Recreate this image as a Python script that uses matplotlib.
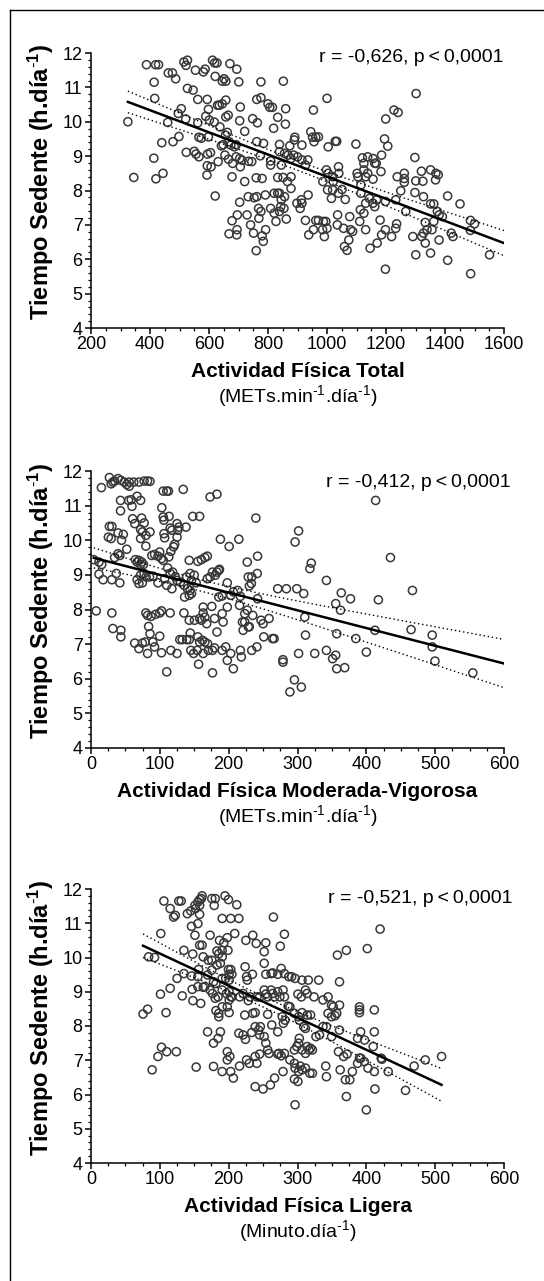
import numpy as np
import matplotlib
matplotlib.use("Agg")
import matplotlib.pyplot as plt
from matplotlib.lines import Line2D
from matplotlib.ticker import MultipleLocator

plt.rcParams['font.family'] = ['Liberation Sans', 'DejaVu Sans']
plt.rcParams['mathtext.fontset'] = 'custom'
plt.rcParams['mathtext.rm'] = 'Liberation Sans'
plt.rcParams['mathtext.it'] = 'Liberation Sans:italic'
plt.rcParams['mathtext.bf'] = 'Liberation Sans:bold'

# Actividad Fisica Total vs tiempo sedente
total_x = [
    388, 419, 429, 515, 527, 522, 612, 619, 627, 671,
    694, 554, 581, 587, 462, 476, 487, 621, 651, 657,
    645, 701, 776, 852, 414, 527, 546, 416, 562, 594,
    635, 629, 645, 657, 762, 776, 800, 806, 815, 706,
    860, 1000, 954, 1302, 1227, 1241, 1199, 506, 496, 521,
    598, 589, 601, 562, 460, 325, 618, 665, 657, 704,
    748, 764, 833, 859, 637, 819, 498, 566, 574, 598,
    662, 656, 721, 762, 785, 839, 874, 891, 889, 945,
    951, 962, 971, 956, 915, 1004, 1028, 1033, 1098, 1195,
    1206, 440, 478, 642, 648, 668, 674, 692, 686, 523,
    556, 566, 595, 605, 413, 631, 654, 666, 680, 692,
    704, 712, 734, 745, 774, 809, 839, 856, 868, 878,
    887, 900, 915, 927, 935, 550, 594, 607, 593, 678,
    706, 721, 760, 780, 809, 833, 851, 866, 878, 845,
    621, 345, 420, 444, 998, 1004, 1019, 1039, 1040, 986,
    1021, 1019, 1051, 1002, 1102, 1105, 1120, 1138, 1156, 1125,
    1162, 1167, 1125, 1138, 1131, 1156, 1185, 1183, 1115, 1298,
    1238, 1250, 1262, 1262, 1262, 1301, 1320, 1325, 1351, 1369,
    1377, 1368, 1298, 1327, 1409, 1451, 1351, 1362, 1267, 1374,
    1380, 1391, 1362, 1356, 1333, 1339, 1327, 1321, 1291, 1333,
    1380, 1421, 1427, 1486, 1500, 1486, 1551, 1351, 1301, 1409,
    1487, 1198, 1198, 1219, 1233, 1236, 1233, 1198, 1185, 1180,
    1162, 1168, 1156, 1144, 1131, 1125, 1113, 1111, 1131, 1146,
    1170, 1115, 1077, 1080, 1087, 1062, 1056, 1059, 1068, 1074,
    1036, 1035, 1039, 1015, 1000, 988, 996, 985, 991, 962,
    971, 954, 938, 927, 936, 898, 913, 915, 878, 856,
    833, 821, 845, 839, 854, 862, 827, 821, 809, 791,
    762, 753, 768, 776, 769, 733, 729, 704, 696, 678,
    668, 695, 694, 741, 751, 760, 780, 784, 792, 839,
    843, 909,
]
total_y = [
    11.66, 11.66, 11.66, 11.74, 11.79, 11.64, 11.79, 11.71, 11.71, 11.69,
    11.53, 11.50, 11.45, 11.53, 11.42, 11.42, 11.25, 11.32, 11.25, 11.18,
    11.18, 11.16, 11.16, 11.18, 11.15, 10.97, 10.92, 10.68, 10.65, 10.65,
    10.48, 10.48, 10.52, 10.63, 10.65, 10.70, 10.52, 10.42, 10.42, 10.43,
    10.38, 10.68, 10.34, 10.82, 10.34, 10.27, 10.08, 10.38, 10.24, 10.08,
    10.36, 10.16, 10.05, 9.97, 9.98, 10.0, 9.99, 10.19, 10.14, 10.03,
    10.09, 9.97, 10.13, 9.93, 9.85, 9.81, 9.57, 9.55, 9.52, 9.56,
    9.69, 9.61, 9.72, 9.42, 9.37, 9.34, 9.30, 9.55, 9.47, 9.71,
    9.55, 9.55, 9.56, 9.42, 9.32, 9.27, 9.43, 9.43, 9.35, 9.50,
    9.29, 9.39, 9.42, 9.30, 9.33, 9.42, 9.32, 9.33, 9.27, 9.11,
    9.06, 8.98, 9.06, 9.10, 8.94, 8.84, 9.03, 8.91, 8.79, 8.98,
    8.93, 8.88, 8.85, 8.84, 9.01, 8.86, 9.13, 9.08, 9.03, 8.93,
    9.03, 8.98, 8.89, 8.74, 8.89, 9.14, 8.72, 8.69, 8.45, 8.40,
    8.69, 8.26, 8.37, 8.35, 8.74, 8.38, 8.38, 8.26, 8.40, 8.74,
    7.84, 8.38, 8.34, 8.50, 8.60, 8.50, 8.40, 8.69, 8.50, 8.26,
    8.26, 8.02, 8.03, 8.02, 8.50, 8.40, 8.95, 8.98, 8.93, 8.79,
    8.79, 8.79, 8.60, 8.50, 8.40, 8.33, 9.03, 8.55, 8.16, 8.96,
    8.40, 7.99, 8.50, 8.35, 8.24, 8.28, 8.56, 8.27, 8.60, 8.50,
    8.46, 8.31, 7.94, 7.82, 7.84, 7.61, 7.61, 7.61, 7.39, 7.39,
    7.29, 7.24, 7.10, 6.86, 7.07, 6.86, 6.76, 6.66, 6.66, 6.47,
    6.56, 6.76, 6.66, 7.13, 7.03, 6.84, 6.13, 6.18, 6.13, 5.97,
    5.58, 5.71, 6.86, 6.66, 6.90, 7.03, 7.73, 7.68, 6.71, 7.14,
    7.53, 7.73, 7.63, 7.77, 7.63, 7.34, 7.44, 7.10, 6.86, 6.32,
    6.47, 7.92, 7.24, 6.86, 6.81, 7.74, 6.90, 6.37, 6.26, 6.56,
    7.29, 7.00, 7.92, 7.77, 6.90, 7.10, 7.10, 6.86, 6.66, 7.13,
    7.13, 6.86, 6.71, 7.13, 7.87, 7.63, 7.73, 7.63, 8.06, 7.82,
    7.92, 7.92, 7.73, 7.92, 7.48, 7.17, 7.10, 7.34, 7.48, 7.87,
    7.82, 7.79, 7.48, 7.39, 7.19, 7.82, 7.29, 7.66, 7.29, 7.12,
    6.74, 6.86, 6.71, 7.00, 6.76, 6.25, 6.68, 6.52, 6.86, 7.39,
    7.53, 7.48,
]

# Actividad Fisica Moderada-Vigorosa
mv_x = [
    26.7, 31.8, 29.2, 39.3, 43.4, 48.4, 51.9, 55.5, 62, 69.6,
    77.2, 82.2, 85.7, 15.1, 55.5, 34.3, 104.9, 110, 112.5, 134,
    173, 183, 42.9, 54.5, 58.5, 72.1, 67, 59.5, 42.9, 60.5,
    73.6, 63.5, 77.2, 102.9, 104.9, 105.9, 113.5, 147.8, 157.8, 239.5,
    115, 117.5, 125, 127.6, 126, 138, 26.7, 30.3, 25.2, 29.2,
    39.3, 46.9, 72.1, 74.6, 85.7, 44.4, 72.1, 79.7, 106, 107,
    125, 188, 200.7, 214.8, 296.5, 301.6, 435, 413.5, 52, 39.3,
    41.9, 79.7, 88.3, 92.3, 99.8, 97.3, 102.4, 105, 113, 116,
    120, 121.5, 142.7, 155.3, 160.4, 165.4, 169, 185.6, 227, 242,
    320, 318, 342, 467, 417.5, 4, 11.6, 15.6, 34.3, 64.5,
    67, 69.6, 73.6, 76.2, 72, 11.6, 17.6, 30.3, 36.8, 41.9,
    67, 72, 77, 80, 69.6, 74.6, 85, 90, 97.3, 107,
    110, 111.4, 115, 118.5, 122.5, 125, 130, 117.5, 135, 139,
    140, 144, 146, 150, 152.8, 144, 146, 142.7, 136, 169,
    173, 176.5, 180.5, 183, 186.6, 198, 206.8, 190.6, 185.6, 203,
    213, 217, 228.5, 233.5, 230, 233, 241.5, 242, 271.3, 283.9,
    299, 309, 355.5, 363.6, 362.5, 377, 7.6, 30.3, 31.8, 43.4,
    43.4, 63.5, 69.6, 74.6, 78.7, 82.2, 79.7, 82.2, 87.2, 93.8,
    99.8, 102.4, 83.7, 85.7, 89.8, 92.3, 99.8, 102.4, 110, 115,
    116, 125, 129, 132.6, 135, 139, 142.7, 142.7, 144.2, 150.3,
    145, 149, 157.8, 160.4, 155.3, 157.8, 154.3, 156.3, 163, 165.4,
    163, 168, 162, 165.4, 169.4, 163, 170.4, 175.5, 176.5, 179.5,
    176.5, 179.5, 183, 190.6, 192, 190.6, 195.7, 198, 198, 203,
    206.8, 215.8, 217, 218.4, 220, 221, 223.4, 223.4, 227, 228.5,
    230, 233.5, 235, 241, 247, 250, 251, 258.7, 263.7, 266,
    278.9, 278.9, 295.5, 289, 305.6, 301.6, 310.6, 311.6, 325, 342,
    351, 355.5, 357, 357, 368.6, 384.8, 400, 412.5, 465, 495.7,
    495.7, 499.7, 554.7,
]
mv_y = [
    11.81, 11.68, 11.63, 11.78, 11.73, 11.68, 11.61, 11.68, 11.68, 11.68,
    11.71, 11.71, 11.70, 11.52, 11.56, 11.71, 11.42, 11.42, 11.42, 11.47,
    11.25, 11.33, 11.15, 11.15, 11.17, 11.15, 11.27, 10.98, 10.85, 10.62,
    10.64, 10.48, 10.50, 10.94, 10.67, 10.58, 10.69, 10.69, 10.69, 10.64,
    10.35, 10.29, 10.48, 10.38, 10.29, 10.38, 10.40, 10.40, 10.09, 10.05,
    10.21, 10.17, 10.31, 10.24, 10.24, 10.0, 10.05, 10.14, 10.19, 10.07,
    10.09, 10.03, 9.82, 10.03, 9.95, 10.27, 9.50, 11.15, 9.74, 9.61,
    9.56, 9.83, 9.56, 9.59, 9.66, 9.54, 9.47, 9.42, 9.52, 9.68,
    9.81, 9.88, 9.42, 9.39, 9.44, 9.50, 9.54, 9.13, 9.37, 9.54,
    9.34, 9.18, 8.84, 8.55, 8.28, 9.44, 9.37, 9.30, 9.50, 9.44,
    9.37, 9.42, 9.37, 9.30, 9.30, 9.02, 8.86, 8.86, 9.04, 8.77,
    8.86, 8.99, 9.04, 8.94, 8.75, 8.77, 8.94, 8.96, 8.77, 8.89,
    8.70, 9.20, 9.04, 9.08, 8.94, 8.84, 8.79, 8.60, 8.70, 8.94,
    8.60, 9.04, 8.84, 8.99, 8.77, 8.55, 8.46, 8.41, 8.36, 8.89,
    8.94, 9.08, 8.99, 9.08, 9.16, 8.77, 8.51, 8.39, 8.36, 8.41,
    8.55, 8.38, 8.94, 8.94, 8.68, 8.75, 9.04, 8.31, 8.60, 8.60,
    8.60, 8.46, 8.17, 8.48, 7.98, 8.31, 7.96, 7.90, 7.45, 7.40,
    7.21, 7.03, 6.87, 7.03, 7.06, 6.73, 7.90, 7.83, 7.80, 7.86,
    7.90, 7.96, 7.51, 7.30, 7.06, 6.92, 7.23, 6.75, 6.20, 7.90,
    6.82, 6.73, 7.13, 7.13, 7.90, 7.13, 7.13, 7.69, 7.32, 7.69,
    6.82, 6.73, 7.74, 7.69, 7.21, 7.06, 6.82, 6.42, 7.90, 7.78,
    8.07, 7.59, 7.11, 7.06, 7.01, 6.73, 6.82, 8.09, 6.82, 6.89,
    6.17, 7.74, 7.35, 7.88, 7.64, 6.82, 6.92, 8.07, 6.53, 6.73,
    6.29, 8.12, 6.82, 6.63, 7.64, 7.40, 7.88, 7.64, 7.98, 7.50,
    7.50, 6.82, 7.83, 6.92, 7.69, 7.59, 7.21, 7.74, 7.16, 7.16,
    6.55, 6.48, 5.97, 5.62, 5.76, 6.73, 7.78, 7.26, 6.73, 6.82,
    6.58, 6.68, 7.30, 6.29, 6.32, 7.16, 6.77, 7.40, 7.42, 7.26,
    6.92, 6.51, 6.17,
]

# Actividad Fisica Ligera
lig_x = [
    105.9, 115, 120, 122.5, 127.6, 131, 140, 145, 151, 155.3,
    157.8, 161.4, 160.4, 151.8, 157.8, 175.5, 180.5, 194.7, 199.7, 211.8,
    179, 157.8, 190.6, 203, 214.8, 155.3, 146, 265, 281, 101.4,
    151, 173, 208.8, 225, 235, 240, 254, 251.6, 275, 186.6,
    193, 198, 199, 157.8, 161.4, 183, 185.6, 163, 170.4, 175.5,
    190.6, 190.6, 188, 183, 135, 147.8, 83.7, 92.3, 401.4, 371,
    358, 420, 251.6, 276.3, 199.7, 203, 200.7, 204.7, 223.9, 226,
    227, 234.5, 254, 261.6, 271.3, 264, 281, 287.4, 291.5, 296.5,
    306.6, 315.7, 330.8, 361, 135, 146, 155.3, 156.3, 169.4, 175.5,
    178, 181.5, 190.6, 195.7, 200.7, 125, 115, 100.9, 132.6, 147,
    148, 155.3, 163, 165.4, 159.4, 173, 176.5, 180.5, 184.6, 190.6,
    196.7, 200.7, 203, 190.6, 198, 200.7, 204.7, 216, 221, 228.5,
    231, 241, 245, 251.6, 254, 256.7, 261.6, 264, 266.7, 271.3,
    274.3, 279, 281, 286.4, 289, 300.6, 305.6, 311.6, 314, 324,
    337, 344.4, 349.5, 352, 361, 390, 390, 390, 411.6, 75.6,
    82.2, 109, 181.5, 185.6, 185.6, 200.7, 223.4, 235, 238.5, 256.7,
    277.9, 281.9, 279.4, 295.5, 301.6, 302.6, 306.6, 314, 319, 344.4,
    349.5, 354.6, 357, 309, 311.6, 326.8, 332, 337, 342, 349.5,
    361, 391.7, 411.6, 397.4, 387.3, 410, 169.4, 178, 184.6, 188,
    214.8, 220.9, 224.4, 233.5, 238.5, 243.5, 246, 245, 251.6, 254,
    256.7, 258.7, 262.6, 271.3, 273, 281, 295.5, 299, 301.6, 302.6,
    306.6, 311.6, 314, 316.7, 319, 321.7, 110, 102.4, 97.3, 124,
    88.8, 152.8, 178, 190.6, 198, 201.7, 198, 203, 206.8, 215.8,
    226, 230, 238.5, 241, 245, 238.5, 250, 260.6, 271.3, 276.3,
    266.7, 279, 289, 295.5, 296.5, 301.6, 295.5, 300.6, 304, 306.6,
    311.6, 318, 321.7, 296.5, 341, 342, 362, 369.6, 376, 379.7,
    387.3, 390, 392, 397, 372, 367, 359.5, 402.4, 411.6, 421.6,
    422.6, 431.7, 412.5, 371, 400, 456.9, 469.5, 485.6, 509.3,
]
lig_y = [
    11.65, 11.43, 11.18, 11.23, 11.65, 11.65, 11.28, 11.36, 11.52, 11.62,
    11.69, 11.80, 11.72, 11.43, 11.52, 11.72, 11.72, 11.80, 11.69, 11.54,
    11.52, 11.26, 11.14, 11.14, 11.14, 10.99, 10.91, 11.18, 10.68, 10.70,
    10.65, 10.65, 10.70, 10.50, 10.65, 10.41, 10.43, 10.17, 10.33, 10.50,
    10.43, 10.58, 10.21, 10.36, 10.36, 10.19, 10.11, 10.02, 9.92, 9.92,
    10.21, 10.02, 9.83, 9.78, 10.21, 10.10, 10.02, 10.0, 10.26, 10.21,
    10.07, 10.83, 9.83, 9.68, 9.65, 9.65, 9.51, 9.51, 9.73, 9.44,
    9.34, 9.51, 9.51, 9.53, 9.51, 9.55, 9.53, 9.44, 9.44, 9.39,
    9.34, 9.34, 9.34, 9.29, 9.53, 9.46, 9.44, 9.65, 9.49, 9.63,
    9.29, 9.24, 9.39, 9.39, 9.34, 9.39, 9.10, 8.93, 8.88, 9.07,
    8.74, 9.15, 9.13, 9.15, 8.66, 9.05, 8.95, 8.81, 8.85, 9.05,
    8.95, 9.00, 8.85, 8.56, 8.56, 8.76, 8.85, 8.85, 8.95, 8.74,
    8.85, 8.85, 8.85, 9.05, 8.93, 8.85, 9.05, 8.95, 8.85, 9.0,
    8.85, 9.05, 8.85, 8.58, 8.56, 8.93, 8.85, 9.05, 8.95, 8.85,
    8.76, 8.85, 8.61, 8.56, 8.61, 8.56, 8.47, 8.39, 8.47, 8.35,
    8.49, 8.39, 8.45, 8.27, 8.37, 8.39, 8.32, 8.37, 8.39, 8.34,
    8.27, 8.17, 8.08, 8.37, 8.27, 8.17, 8.39, 8.32, 8.32, 8.37,
    8.27, 8.30, 8.37, 7.98, 7.93, 7.69, 7.74, 7.98, 7.98, 7.69,
    7.88, 7.83, 7.83, 7.59, 7.64, 7.40, 7.83, 7.50, 7.64, 7.83,
    7.79, 7.74, 7.61, 7.81, 7.98, 7.88, 7.98, 7.74, 7.69, 7.50,
    7.30, 7.20, 8.03, 7.83, 7.20, 7.20, 7.30, 7.40, 7.50, 7.64,
    7.30, 7.20, 7.40, 7.30, 7.35, 7.30, 7.25, 7.38, 7.11, 7.25,
    6.72, 6.80, 6.82, 6.67, 7.25, 7.11, 7.01, 6.67, 6.48, 6.83,
    7.01, 6.91, 7.11, 6.91, 7.18, 6.23, 6.16, 6.28, 7.18, 7.13,
    6.48, 6.67, 7.01, 6.91, 6.77, 6.67, 6.45, 6.38, 6.83, 6.72,
    6.77, 6.62, 6.62, 5.70, 6.83, 6.52, 6.72, 6.43, 6.43, 6.67,
    6.91, 7.06, 7.06, 6.96, 7.18, 7.11, 7.25, 6.77, 6.67, 7.06,
    7.03, 6.67, 6.16, 5.94, 5.55, 6.12, 6.83, 7.01, 7.11,
]

# regression lines as drawn in the figure
fit_intercept = [11.625, 9.512, 11.052]
fit_slope = [-0.003222, -0.00512, -0.009366]

x_titles = ["Actividad Física Total",
            "Actividad Física Moderada-Vigorosa",
            "Actividad Física Ligera"]
x_units = [r"(METs.min$^{\text{-}1}$.día$^{\text{-}1}$)",
           r"(METs.min$^{\text{-}1}$.día$^{\text{-}1}$)",
           r"(Minuto.día$^{\text{-}1}$)"]
stats_text = ["r = -0,626, p\u2009<\u20090,0001",
              "r = -0,412, p\u2009<\u20090,0001",
              "r = -0,521, p\u2009<\u20090,0001"]
x_limits = [(200, 1600), (0, 600), (0, 600)]
x_major = [200, 100, 100]
fit_end = [1600, 600, None]   # fitted line runs to axis end in the first two panels

panels = [(total_x, total_y), (mv_x, mv_y), (lig_x, lig_y)]

W, H = 544, 1281
fig = plt.figure(figsize=(W / 100, H / 100), dpi=100)

# frame that is cut off at right/bottom in the original scan
fig.add_artist(Line2D([10 / W, 10 / W], [0, 1 - 10 / H], color='black', lw=1.0))
fig.add_artist(Line2D([10 / W, 1], [1 - 10 / H, 1 - 10 / H], color='black', lw=1.0))

tops = [53, 471, 889]
bottoms = [328, 748, 1163]
ax_left, ax_right = 91, 504
stat_x = [1.0, 1.015, 1.02]
stat_y = [0.985, 0.96, 0.967]


def ci_band(x, y, a, b, xs, t=1.969):
    # 95% band of the mean around the drawn line
    n = len(x)
    resid = y - (a + b * x)
    s = np.sqrt(np.sum(resid ** 2) / (n - 2))
    sxx = np.sum((x - x.mean()) ** 2)
    yhat = a + b * xs
    half = t * s * np.sqrt(1 / n + (xs - x.mean()) ** 2 / sxx)
    return yhat, yhat - half, yhat + half


for i, (xv, yv) in enumerate(panels):
    x = np.array(xv, dtype=float)
    y = np.array(yv, dtype=float)
    t, b = tops[i], bottoms[i]
    ax = fig.add_axes([ax_left / W, 1 - b / H, (ax_right - ax_left) / W, (b - t) / H])

    ax.scatter(x, y, s=34, facecolors='none', edgecolors='#383838', linewidths=1.1, zorder=3)

    end = fit_end[i] if fit_end[i] is not None else x.max()
    xs = np.linspace(x.min(), end, 200)
    yhat, lo, hi = ci_band(x, y, fit_intercept[i], fit_slope[i], xs)
    ax.plot(xs, yhat, color='black', lw=1.8, zorder=4)
    ax.plot(xs, lo, color='black', lw=1.0, ls=(0, (1, 2)), zorder=4)
    ax.plot(xs, hi, color='black', lw=1.0, ls=(0, (1, 2)), zorder=4)

    ax.set_xlim(*x_limits[i])
    ax.set_ylim(4, 12)
    ax.xaxis.set_major_locator(MultipleLocator(x_major[i]))
    ax.xaxis.set_minor_locator(MultipleLocator(x_major[i] / 4))
    ax.yaxis.set_major_locator(MultipleLocator(1))
    ax.yaxis.set_minor_locator(MultipleLocator(0.2))
    for side in ['top', 'right']:
        ax.spines[side].set_visible(False)
    for side in ['left', 'bottom']:
        ax.spines[side].set_linewidth(1.1)
    ax.tick_params(which='major', direction='out', length=4, width=1.1, labelsize=13, pad=2)
    ax.tick_params(which='minor', direction='out', length=2.2, width=0.9)

    ax.set_ylabel(r"Tiempo Sedente (h.día$^{\mathbf{\text{-}1}}$)", fontsize=17, fontweight='bold')
    ax.yaxis.set_label_coords((56 - ax_left) / (ax_right - ax_left), 0.53)

    hpx = b - t
    ax.text(0.5, -49 / hpx, x_titles[i], transform=ax.transAxes, ha='center',
            va='baseline', fontsize=15, fontweight='bold')
    ax.text(0.5, -74 / hpx, x_units[i], transform=ax.transAxes, ha='center',
            va='baseline', fontsize=14)
    ax.text(stat_x[i], stat_y[i], stats_text[i], transform=ax.transAxes, ha='right',
            va='center', fontsize=14)

fig.savefig("out.png", dpi=100)
